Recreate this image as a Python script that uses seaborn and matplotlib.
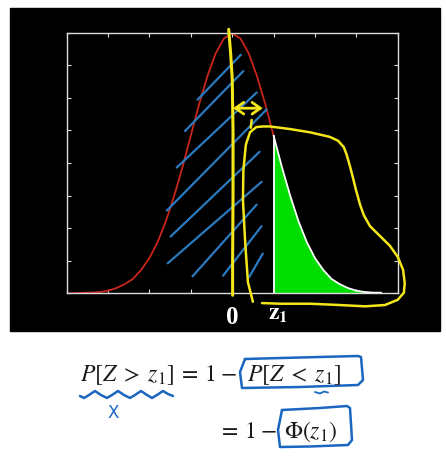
"""
Standard normal density with the upper tail P[Z > z1] shaded,
plus the hand-drawn lecture annotations and the equation below.
"""
import matplotlib
matplotlib.use('Agg')
import matplotlib.pyplot as plt
import seaborn as sns

sns.set_style('white')
plt.rcParams['mathtext.fontset'] = 'stix'

# ---- curve values (z, density) ----
z_left = [-4.0, -3.8, -3.6, -3.4, -3.2, -3.0, -2.8, -2.6, -2.4, -2.2,
          -2.0, -1.8, -1.6, -1.4, -1.2, -1.0, -0.8, -0.6, -0.4, -0.2,
          0.0, 0.2, 0.4, 0.6, 0.8, 1.0]
dens_left = [0.000, 0.000, 0.001, 0.001, 0.002, 0.004, 0.008, 0.014, 0.022, 0.036,
             0.054, 0.079, 0.111, 0.150, 0.194, 0.242, 0.290, 0.333, 0.368, 0.391,
             0.399, 0.391, 0.368, 0.333, 0.290, 0.242]
z_right = [1.0, 1.2, 1.4, 1.6, 1.8, 2.0, 2.2, 2.4, 2.6, 2.8, 3.0, 3.2, 3.4, 3.6]
dens_right = [0.242, 0.194, 0.150, 0.111, 0.079, 0.054, 0.036, 0.022, 0.014, 0.008,
              0.004, 0.002, 0.001, 0.001]
z1 = 1.0

x_ticks = [-4, -3, -2, -1, 0, 1, 2, 3, 4]
y_ticks = [0, 0.05, 0.1, 0.15, 0.2, 0.25, 0.3, 0.35, 0.4]

# ---- hand-drawn marks on the plot (data coords) ----
hatch_lines = [
    ((-0.84, 0.297), (0.21, 0.366)),
    ((-1.14, 0.249), (0.27, 0.341)),
    ((-1.34, 0.193), (0.59, 0.308)),
    ((-1.58, 0.127), (0.83, 0.282)),
    ((-1.49, 0.087), (0.66, 0.217)),
    ((-1.56, 0.046), (0.71, 0.171)),
    ((-0.96, 0.026), (0.59, 0.136)),
    ((-0.22, 0.027), (0.71, 0.103)),
    ((0.41, 0.025), (0.74, 0.061)),
]
mean_line_x = [-0.085, -0.04, 0.0, 0.02, 0.02, 0.01, 0.01]
mean_line_y = [0.405, 0.37, 0.33, 0.25, 0.15, 0.05, -0.003]
loop_x = [0.50, 0.38, 0.31, 0.26, 0.27, 0.33, 0.43, 0.58, 0.74, 0.91, 1.40, 1.88,
          2.36, 2.56, 2.70, 2.77, 2.85, 2.92, 2.99, 3.09, 3.18, 3.33, 3.57, 3.81,
          4.00, 4.13, 4.17, 4.15, 4.00, 3.69, 3.21, 2.60, 1.88, 1.16, 0.72]
loop_y = [-0.013, 0.017, 0.082, 0.143, 0.189, 0.228, 0.247, 0.255, 0.256, 0.256,
          0.252, 0.247, 0.240, 0.234, 0.224, 0.212, 0.194, 0.177, 0.159, 0.136,
          0.120, 0.103, 0.088, 0.073, 0.056, 0.036, 0.016, 0.001, -0.010, -0.018,
          -0.020, -0.018, -0.016, -0.016, -0.015]

# ---- equation area marks (figure pixels, y down) ----
box1_x = [245, 300, 358, 361, 363, 358, 300, 242, 240, 245]
box1_y = [359, 357.5, 356, 357, 380, 385, 387, 388, 372, 359]
box2_x = [282, 320, 347, 350, 352, 348, 310, 280, 278, 282]
box2_y = [410, 408, 406, 408, 440, 445, 446.5, 447, 430, 410]
wave_x = [80, 84, 89, 95, 101, 107, 112, 118, 124, 130, 135, 141, 147, 152,
          157, 163, 168, 173]
wave_y = [396, 398, 395, 391, 395, 398, 395, 391, 395, 398, 395, 391, 395, 398,
          395, 391, 394, 396]

YELLOW = '#f3e61a'
BLUE = '#2a7abf'
PEN = '#1a66c0'
GREEN = '#00dd00'
RED = '#c8261a'

W, H = 446, 459
fig = plt.figure(figsize=(W / 100, H / 100), dpi=100)
fig.patch.set_facecolor('white')

# background layer in pixel coords
bg = fig.add_axes([0, 0, 1, 1], zorder=0)
bg.set_xlim(0, W)
bg.set_ylim(H, 0)
bg.axis('off')
bg.add_patch(plt.Rectangle((10, 8), 430, 323, color='black', zorder=0))

# equation
eq_kw = dict(fontsize=17, color='#1b1b1b', va='baseline', ha='left')
bg.text(80, 381, r'$P[Z\;>\;z_1]\:=\:1\:-$', **eq_kw)
bg.text(247, 381, r'$P[Z\;<\;z_1]$', **eq_kw)
bg.text(218, 438, r'$=\:1\:-$', **eq_kw)
bg.text(284, 438, r'$\Phi(z_1)$', **eq_kw)
bg.plot(box1_x, box1_y, color=PEN, lw=1.8, solid_joinstyle='round')
bg.plot(box2_x, box2_y, color=PEN, lw=1.8, solid_joinstyle='round')
bg.plot(wave_x, wave_y, color=PEN, lw=1.8, solid_joinstyle='round')
bg.plot([315, 320, 324, 328], [392, 393.5, 391.5, 392.5], color=PEN, lw=1.3)
bg.text(113, 413, 'X', fontsize=12, color=PEN, ha='center', va='center',
        family='DejaVu Sans')

# main plot
ax = fig.add_axes([66.7 / W, 1 - 293.3 / H, 331 / W, 260.7 / H], zorder=1)
ax.set_facecolor('black')

sns.lineplot(x=z_left, y=dens_left, color=RED, lw=1.3, ax=ax)
ax.fill_between(z_right, dens_right, color=GREEN, lw=0, zorder=2)
sns.lineplot(x=z_right, y=dens_right, color='white', lw=1.3, ax=ax, zorder=3)
ax.plot([z1, z1], [0, dens_right[0]], color='white', lw=1.3, zorder=3)

ax.set_xlim(-4, 4)
ax.set_ylim(0, 0.4)
ax.set_xticks(x_ticks)
ax.set_yticks(y_ticks)
ax.set_xticklabels([])
ax.set_yticklabels([])
ax.tick_params(direction='in', length=3, width=0.8, colors='#dddddd',
               top=True, right=True, bottom=True, left=True)
for s in ax.spines.values():
    s.set_color('#dddddd')
    s.set_linewidth(1.0)
    s.set_visible(True)

# hatching
for (xa, ya), (xb, yb) in hatch_lines:
    ax.plot([xa, xb], [ya, yb], color=BLUE, lw=1.6, zorder=4,
            solid_capstyle='round', clip_on=False)

# yellow annotations
ax.plot(mean_line_x, mean_line_y, color=YELLOW, lw=2.2, zorder=5, clip_on=False)
ax.plot(loop_x, loop_y, color=YELLOW, lw=1.8, zorder=5, clip_on=False,
        solid_joinstyle='round')
ax.plot([0.47, 0.45], [0.266, 0.254], color=YELLOW, lw=1.8, zorder=5)
ax.annotate('', xy=(0.74, 0.284), xytext=(0.02, 0.284),
            arrowprops=dict(arrowstyle='<->,head_length=0.5,head_width=0.35',
                            color=YELLOW, lw=2, mutation_scale=12,
                            shrinkA=0, shrinkB=0), zorder=5)

# hand-labelled axis marks
ax.text(0, -0.093, '0', transform=ax.get_xaxis_transform(), color='white',
        fontsize=18, fontweight='bold', family='Liberation Serif',
        ha='center', va='center', clip_on=False)
ax.text(1.1, -0.075, r'$\mathbf{z_1}$', transform=ax.get_xaxis_transform(),
        color='white', fontsize=17, ha='center', va='center', clip_on=False)

plt.savefig('out.png', dpi=100)
plt.close()
